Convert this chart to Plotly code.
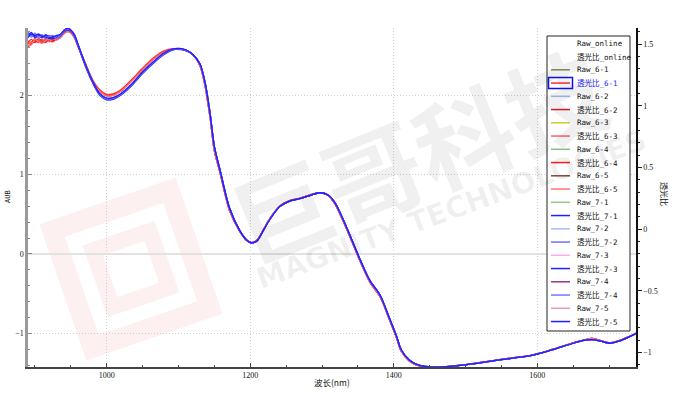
import math
import plotly.graph_objects as go

# ---------------- data ----------------
wl_head = [890, 895, 900, 905, 910, 915, 920, 925, 930, 935, 940, 945, 950, 955, 960,
           970, 980, 990, 1000, 1010, 1020, 1035, 1050, 1065, 1080, 1095, 1110, 1120]
wl_tail = [1130, 1137, 1144, 1150, 1158, 1171, 1185, 1195, 1202, 1210, 1218, 1227, 1241,
           1255, 1269, 1283, 1297, 1308, 1318, 1334, 1353, 1367, 1381, 1394, 1404, 1410,
           1422, 1436, 1454, 1480, 1502, 1548, 1594, 1622, 1650, 1665, 1676, 1687, 1701,
           1715, 1728, 1738]

red_tail = [2.37, 2.12, 1.72, 1.30, 1.02, 0.55, 0.29, 0.17, 0.14, 0.18, 0.30, 0.44, 0.60,
            0.67, 0.70, 0.74, 0.77, 0.74, 0.63, 0.32, -0.09, -0.36, -0.54, -0.83, -1.06, -1.22,
            -1.35, -1.41, -1.425, -1.415, -1.39, -1.33, -1.27, -1.20, -1.12, -1.085, -1.065,
            -1.09, -1.12, -1.09, -1.04, -1.00]
blue_tail = [2.39, 2.16, 1.77, 1.35, 1.05, 0.58, 0.30, 0.175, 0.14, 0.17, 0.29, 0.43, 0.595,
             0.665, 0.695, 0.735, 0.77, 0.745, 0.645, 0.34, -0.07, -0.34, -0.52, -0.81, -1.04, -1.20,
             -1.34, -1.405, -1.425, -1.415, -1.395, -1.335, -1.275, -1.205, -1.125, -1.09, -1.08,
             -1.095, -1.125, -1.095, -1.045, -1.00]

head_6_1 = [2.64, 2.67, 2.69, 2.66, 2.70, 2.68, 2.69, 2.71, 2.70, 2.73, 2.78, 2.81, 2.79, 2.73,
            2.62, 2.40, 2.19, 2.06, 2.00, 2.01, 2.06, 2.19, 2.33, 2.46, 2.55, 2.58, 2.565, 2.51]
head_6_2 = [2.60, 2.65, 2.67, 2.69, 2.66, 2.70, 2.68, 2.67, 2.71, 2.72, 2.77, 2.80, 2.78, 2.72,
            2.61, 2.39, 2.18, 2.05, 1.99, 2.00, 2.05, 2.18, 2.32, 2.45, 2.54, 2.575, 2.56, 2.51]
head_6_3 = [2.68, 2.66, 2.71, 2.68, 2.69, 2.71, 2.67, 2.70, 2.72, 2.74, 2.79, 2.82, 2.80, 2.74,
            2.63, 2.41, 2.20, 2.07, 2.01, 2.02, 2.07, 2.20, 2.34, 2.47, 2.56, 2.585, 2.57, 2.51]
head_6_4 = [2.66, 2.70, 2.66, 2.71, 2.68, 2.66, 2.71, 2.69, 2.70, 2.73, 2.78, 2.81, 2.79, 2.73,
            2.62, 2.40, 2.19, 2.06, 2.00, 2.01, 2.06, 2.19, 2.33, 2.46, 2.55, 2.58, 2.565, 2.51]
head_6_5 = [2.62, 2.63, 2.70, 2.67, 2.65, 2.69, 2.70, 2.72, 2.69, 2.72, 2.77, 2.80, 2.78, 2.72,
            2.61, 2.39, 2.18, 2.05, 1.99, 2.00, 2.05, 2.18, 2.32, 2.45, 2.54, 2.575, 2.56, 2.51]
head_7_1 = [2.78, 2.76, 2.74, 2.76, 2.73, 2.75, 2.72, 2.74, 2.73, 2.75, 2.80, 2.83, 2.81, 2.75,
            2.63, 2.38, 2.17, 2.01, 1.95, 1.96, 2.01, 2.13, 2.28, 2.41, 2.52, 2.58, 2.565, 2.51]
head_7_2 = [2.80, 2.73, 2.77, 2.72, 2.76, 2.72, 2.75, 2.72, 2.74, 2.76, 2.81, 2.84, 2.82, 2.76,
            2.64, 2.39, 2.18, 2.02, 1.96, 1.97, 2.02, 2.14, 2.29, 2.42, 2.53, 2.585, 2.57, 2.51]
head_7_3 = [2.74, 2.79, 2.72, 2.75, 2.72, 2.76, 2.73, 2.71, 2.72, 2.74, 2.79, 2.82, 2.80, 2.74,
            2.62, 2.37, 2.16, 2.00, 1.94, 1.95, 2.00, 2.12, 2.27, 2.40, 2.51, 2.575, 2.56, 2.51]
head_7_4 = [2.76, 2.74, 2.78, 2.73, 2.75, 2.71, 2.74, 2.75, 2.71, 2.75, 2.80, 2.83, 2.81, 2.75,
            2.63, 2.38, 2.17, 2.01, 1.95, 1.96, 2.01, 2.13, 2.28, 2.41, 2.52, 2.58, 2.565, 2.51]
head_7_5 = [2.72, 2.77, 2.75, 2.77, 2.74, 2.73, 2.71, 2.73, 2.75, 2.76, 2.81, 2.84, 2.82, 2.76,
            2.64, 2.39, 2.18, 2.02, 1.96, 1.97, 2.02, 2.14, 2.29, 2.42, 2.53, 2.585, 2.57, 2.51]

curve_names = ["透光比_6-1", "透光比_6-2", "透光比_6-3", "透光比_6-4", "透光比_6-5",
               "透光比_7-1", "透光比_7-2", "透光比_7-3", "透光比_7-4", "透光比_7-5"]
curve_heads = [head_6_1, head_6_2, head_6_3, head_6_4, head_6_5,
               head_7_1, head_7_2, head_7_3, head_7_4, head_7_5]
curve_tails = [red_tail] * 5 + [blue_tail] * 5
curve_colors = ["#ff3030", "#d02222", "#ff6464", "#ff1a1a", "#ff7474",
                "#2020ff", "#6e6eff", "#2424ee", "#7777ff", "#1f1fff"]

legend_names = ["Raw_online", "透光比_online",
                "Raw_6-1", "透光比_6-1", "Raw_6-2", "透光比_6-2", "Raw_6-3", "透光比_6-3",
                "Raw_6-4", "透光比_6-4", "Raw_6-5", "透光比_6-5",
                "Raw_7-1", "透光比_7-1", "Raw_7-2", "透光比_7-2", "Raw_7-3", "透光比_7-3",
                "Raw_7-4", "透光比_7-4", "Raw_7-5", "透光比_7-5"]
legend_colors = [None, None,
                 "#7f8f5f", "#ff3030", "#99bbee", "#d02222", "#cccc33", "#ff6464",
                 "#88bb88", "#ff1a1a", "#7a5040", "#ff7474",
                 "#99c488", "#2020ff", "#aabbff", "#6e6eff", "#ffaaee", "#2424ee",
                 "#993388", "#7777ff", "#ee99aa", "#1f1fff"]
legend_selected = "透光比_6-1"

x_range = [890.3, 1737.5]
y_range = [-1.424, 2.844]
y2_range = [-1.117, 1.63]

# ---------------- geometry helpers (pixel -> coords) ----------------
W, H = 683, 407
ML, MR, MT, MB = 28, 47, 28, 40
PW, PH = W - ML - MR, H - MT - MB


def px_x(px):
    return (px - ML) / PW


def px_y(py):
    return (H - MB - py) / PH


def dx(px):
    return x_range[0] + (px - ML) / PW * (x_range[1] - x_range[0])


def dy(py):
    return y_range[1] - (py - MT) / PH * (y_range[1] - y_range[0])


fig = go.Figure()

# raw series live on the right axis (no visible marks)
for nm, col in zip(legend_names, legend_colors):
    if nm.startswith("Raw_"):
        fig.add_trace(go.Scatter(x=[None], y=[None], name=nm, yaxis="y2", mode="lines",
                                 line=dict(color=col or "#000"), showlegend=False))

for nm, hd, tl, col in zip(curve_names, curve_heads, curve_tails, curve_colors):
    fig.add_trace(go.Scatter(x=wl_head + wl_tail, y=hd + tl, name=nm, mode="lines",
                             line=dict(color=col, width=1.3, shape="spline", smoothing=0.8),
                             showlegend=False, hoverinfo="skip"))

shapes = []
annotations = []

# ---------------- pink logo watermark (below grid) ----------------
cx, cy, ang = 131, 269, math.radians(19)
ux, uy = math.cos(ang), -math.sin(ang)
vx, vy = math.sin(ang), math.cos(ang)


def square_path(half):
    pts = []
    for su, sv in [(-1, -1), (1, -1), (1, 1), (-1, 1)]:
        px = cx + su * half * ux + sv * half * vx
        py = cy + su * half * uy + sv * half * vy
        pts.append((dx(px), dy(py)))
    return "M " + " L ".join(f"{a},{b}" for a, b in pts) + " Z"


for half, col in [(72, "#fdf0f0"), (52, "#ffffff"), (38, "#fdf0f0"), (22, "#ffffff")]:
    shapes.append(dict(type="path", path=square_path(half), xref="x", yref="y",
                       fillcolor=col, line=dict(width=0), layer="below"))

# ---------------- manual legend ----------------
lx0, lx1, ly0, ly1 = 547, 630, 36, 331
shapes.append(dict(type="rect", xref="paper", yref="paper", x0=px_x(lx0), x1=px_x(lx1),
                   y0=px_y(ly1), y1=px_y(ly0), fillcolor="white",
                   line=dict(color="#222", width=1), layer="above"))
row0, rstep = 43.3, 13.25
for i, (nm, col) in enumerate(zip(legend_names, legend_colors)):
    ry = row0 + i * rstep
    if col:
        shapes.append(dict(type="line", xref="paper", yref="paper", x0=px_x(551), x1=px_x(570),
                           y0=px_y(ry), y1=px_y(ry), line=dict(color=col, width=1.5),
                           layer="above"))
    sel = nm == legend_selected
    if sel:
        shapes.append(dict(type="rect", xref="paper", yref="paper", x0=px_x(548.5),
                           x1=px_x(572.5), y0=px_y(ry + 5.5), y1=px_y(ry - 5.5),
                           line=dict(color="#1010ee", width=1.5), layer="above"))
    annotations.append(dict(text=nm, xref="paper", yref="paper", x=px_x(575), y=px_y(ry),
                            xanchor="left", yanchor="middle", showarrow=False,
                            font=dict(size=7.5, color="#1a1aff" if sel else "#111",
                                      family="DejaVu Sans Mono, Noto Sans CJK SC")))

# ---------------- axis titles ----------------
annotations.append(dict(text="AUB", xref="paper", yref="paper", x=px_x(8), y=px_y(197),
                        textangle=-90, showarrow=False, xanchor="center", yanchor="middle",
                        font=dict(size=7, color="#111", family="DejaVu Sans Mono")))
annotations.append(dict(text="透光比", xref="paper", yref="paper", x=px_x(665), y=px_y(194),
                        textangle=90, showarrow=False, xanchor="center", yanchor="middle",
                        font=dict(size=8, color="#111", family="Noto Sans CJK SC")))
annotations.append(dict(text="波长(nm)", xref="paper", yref="paper", x=px_x(332), y=px_y(382),
                        showarrow=False, xanchor="center", yanchor="middle",
                        font=dict(size=8.5, color="#111", family="Noto Sans CJK SC")))

# ---------------- grey text watermark ----------------
annotations.append(dict(text="巨哥科技", xref="paper", yref="paper", x=px_x(417), y=px_y(152),
                        textangle=-22, showarrow=False, xanchor="center", yanchor="middle",
                        font=dict(size=98, color="rgba(0,0,0,0.06)", family="Noto Sans CJK SC",
                                  weight="bold")))
annotations.append(dict(text="MAGNITY TECHNOLOGIES", xref="paper", yref="paper",
                        x=px_x(452), y=px_y(209), textangle=-20, showarrow=False,
                        xanchor="center", yanchor="middle",
                        font=dict(size=29, color="rgba(0,0,0,0.06)", family="DejaVu Sans",
                                  weight="bold")))

tickfont = dict(size=8, color="#111", family="Liberation Serif")
fig.update_layout(
    width=W, height=H,
    margin=dict(l=ML, r=MR, t=MT, b=MB, pad=0),
    paper_bgcolor="white", plot_bgcolor="white",
    showlegend=False,
    shapes=shapes, annotations=annotations,
    xaxis=dict(range=x_range, tick0=1000, dtick=200, ticks="inside", ticklen=4,
               tickcolor="#444", showgrid=True, gridcolor="#d0d0d0", griddash="1px,2px",
               gridwidth=1, showline=True, linecolor="#444", linewidth=1.5, zeroline=False,
               tickfont=tickfont,
               minor=dict(dtick=50, tick0=1000, ticks="inside", ticklen=2, tickcolor="#444",
                          showgrid=False)),
    yaxis=dict(range=y_range, tick0=0, dtick=1, ticks="inside", ticklen=4, tickcolor="#888",
               showgrid=True, gridcolor="#d0d0d0", griddash="1px,2px", gridwidth=1,
               showline=True, linecolor="#9a9a9a", linewidth=2.5,
               zeroline=True, zerolinecolor="#e2e2e2", zerolinewidth=2,
               tickfont=tickfont,
               minor=dict(dtick=0.2, tick0=0, ticks="inside", ticklen=2, tickcolor="#888",
                          showgrid=False)),
    yaxis2=dict(range=y2_range, overlaying="y", side="right", anchor="x", tick0=0, dtick=0.5,
                ticks="outside", ticklen=4, tickcolor="#222", showgrid=False, zeroline=False,
                showline=True, linecolor="#111", linewidth=1.5, tickfont=tickfont,
                minor=dict(dtick=0.1, tick0=0, ticks="outside", ticklen=2, tickcolor="#222")),
)

fig.write_html("out.html", config={"displayModeBar": False},
               post_script="document.body.style.margin='0';")
